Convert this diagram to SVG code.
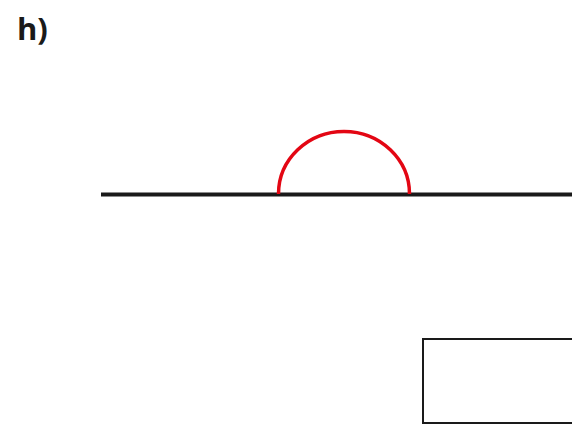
<svg xmlns="http://www.w3.org/2000/svg" width="572" height="432" viewBox="0 0 572 432">
<style>
.lbl{font-family:"Open Sans","Liberation Sans",sans-serif;font-weight:bold;font-size:31px;fill:#1a1a1a}
</style>
<rect width="572" height="432" fill="#ffffff"/>
<text class="lbl" x="17" y="40">h)</text>
<g id="line"><line x1="101" y1="194.5" x2="572" y2="194.5" stroke="#1a1a1a" stroke-width="4"/></g>
<g id="arc"><path d="M278.5 194 A65.5 62.5 0 0 1 409.5 194" fill="none" stroke="#e30613" stroke-width="3.5"/></g>
<g id="box"><rect x="423" y="339" width="160" height="84" fill="none" stroke="#1a1a1a" stroke-width="2"/></g>
</svg>
